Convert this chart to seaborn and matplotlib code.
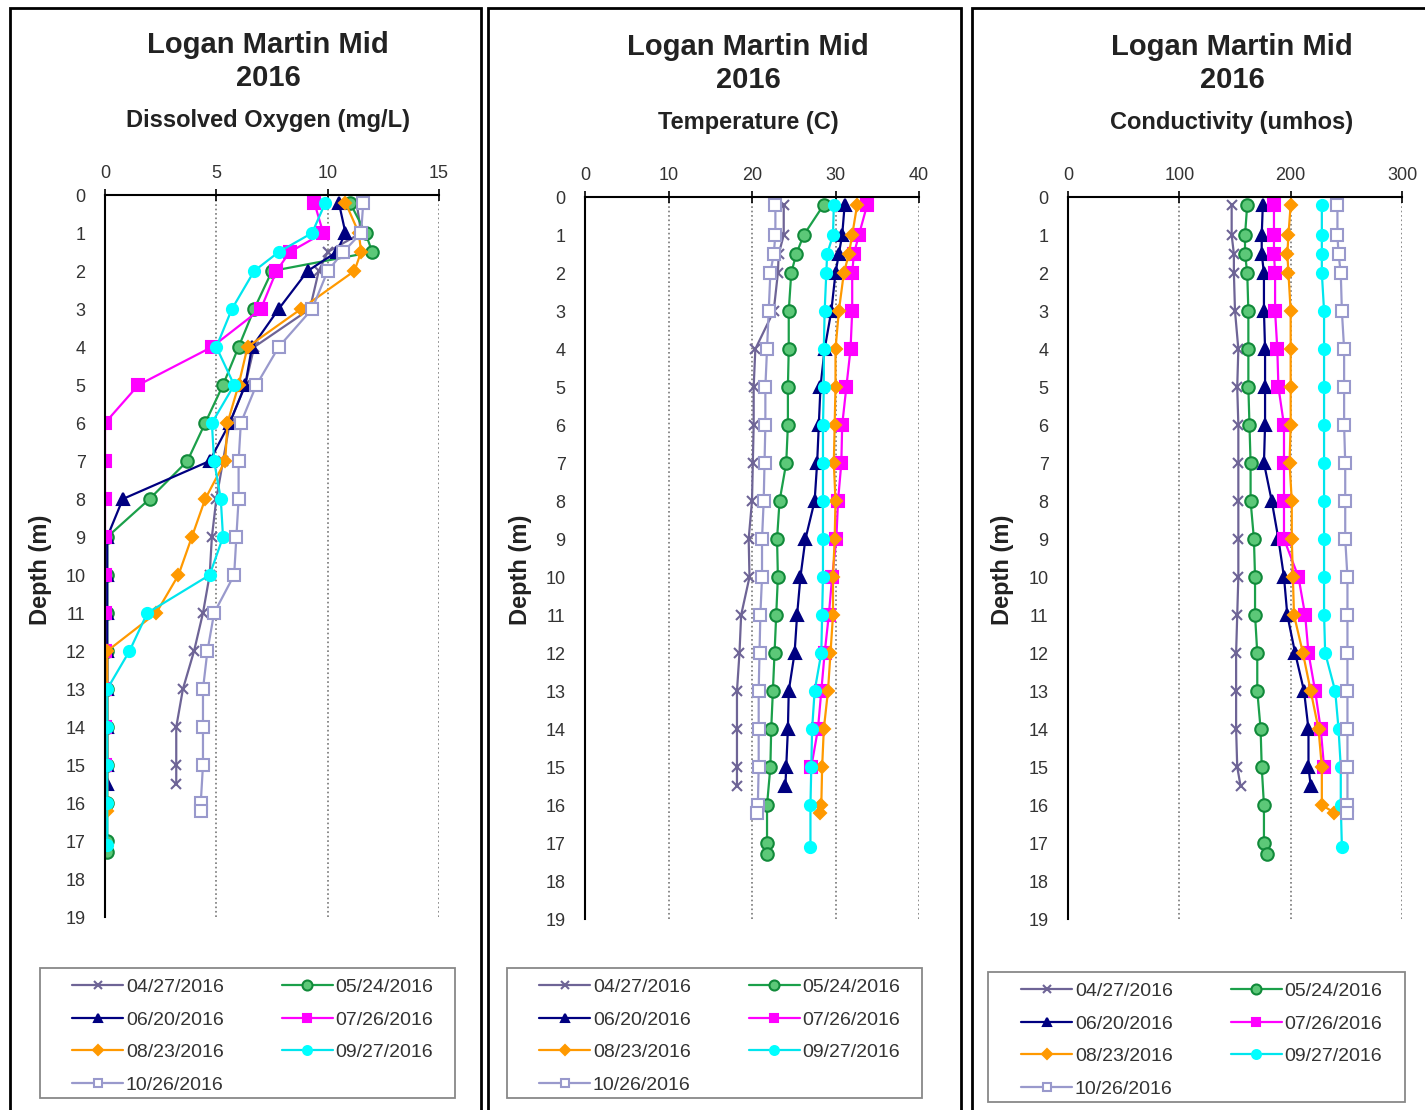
import numpy as np
import pandas as pd
import matplotlib
matplotlib.use("Agg")
import matplotlib.pyplot as plt
from matplotlib.patches import Rectangle
import seaborn as sns

# sampling dates and depths (m)
dates = ["04/27/2016", "05/24/2016", "06/20/2016", "07/26/2016",
         "08/23/2016", "09/27/2016", "10/26/2016"]

depth_0427 = [0.2, 1, 1.5, 2, 3, 4, 5, 6, 7, 8, 9, 10, 11, 12, 13, 14, 15, 15.5]
depth_0524 = [0.2, 1, 1.5, 2, 3, 4, 5, 6, 7, 8, 9, 10, 11, 12, 13, 14, 15, 16, 17, 17.3]
depth_0620 = [0.2, 1, 1.5, 2, 3, 4, 5, 6, 7, 8, 9, 10, 11, 12, 13, 14, 15, 15.5]
depth_0726 = [0.2, 1, 1.5, 2, 3, 4, 5, 6, 7, 8, 9, 10, 11, 12, 13, 14, 15]
depth_0823 = [0.2, 1, 1.5, 2, 3, 4, 5, 6, 7, 8, 9, 10, 11, 12, 13, 14, 15, 16, 16.2]
depth_0927 = [0.2, 1, 1.5, 2, 3, 4, 5, 6, 7, 8, 9, 10, 11, 12, 13, 14, 15, 16, 17.1]
depth_1026 = [0.2, 1, 1.5, 2, 3, 4, 5, 6, 7, 8, 9, 10, 11, 12, 13, 14, 15, 16, 16.2]

# dissolved oxygen (mg/L)
do_0427 = [11.3, 11.5, 10.0, 9.6, 9.2, 6.7, 6.3, 5.6, 5.3, 5.0, 4.8, 4.7, 4.4, 4.0, 3.5, 3.2, 3.2, 3.2]
do_0524 = [11.0, 11.7, 12.0, 7.5, 6.7, 6.0, 5.3, 4.5, 3.7, 2.0, 0.1, 0.1, 0.1, 0.1, 0.1, 0.1, 0.1, 0.1, 0.1, 0.1]
do_0620 = [10.5, 10.8, 10.4, 9.1, 7.8, 6.6, 6.3, 5.6, 4.7, 0.8, 0.1, 0.1, 0.1, 0.1, 0.1, 0.1, 0.1, 0.1]
do_0726 = [9.4, 9.8, 8.3, 7.7, 7.0, 4.8, 1.5, 0, 0, 0, 0, 0, 0, 0, 0, 0, 0]
do_0823 = [10.8, 11.4, 11.5, 11.2, 8.8, 6.4, 6.0, 5.5, 5.4, 4.5, 3.9, 3.3, 2.3, 0.1, 0.1, 0.1, 0.1, 0.1, 0.1]
do_0927 = [9.9, 9.3, 7.8, 6.7, 5.7, 5.0, 5.8, 4.8, 4.9, 5.2, 5.3, 4.7, 1.9, 1.1, 0.1, 0.1, 0.1, 0.1, 0.1]
do_1026 = [11.6, 11.5, 10.7, 10.0, 9.3, 7.8, 6.8, 6.1, 6.0, 6.0, 5.9, 5.8, 4.9, 4.6, 4.4, 4.4, 4.4, 4.3, 4.3]

# temperature (C)
temp_0427 = [23.8, 23.8, 23.2, 23.1, 22.6, 20.4, 20.2, 20.2, 20.1, 20.0, 19.6, 19.7, 18.7, 18.5, 18.2, 18.2, 18.2, 18.2]
temp_0524 = [28.6, 26.2, 25.3, 24.7, 24.4, 24.4, 24.3, 24.3, 24.1, 23.3, 23.0, 23.1, 22.9, 22.7, 22.5, 22.3, 22.2, 21.8, 21.8, 21.8]
temp_0620 = [31.1, 30.8, 30.4, 30.0, 29.5, 28.7, 28.2, 28.0, 27.8, 27.5, 26.4, 25.8, 25.4, 25.1, 24.4, 24.3, 24.1, 24.0]
temp_0726 = [33.8, 32.8, 32.2, 32.0, 32.0, 31.8, 31.3, 30.8, 30.7, 30.3, 30.1, 29.6, 29.2, 28.7, 28.3, 27.9, 27.1]
temp_0823 = [32.6, 32.0, 31.6, 31.0, 30.4, 30.0, 30.0, 29.9, 29.8, 30.0, 29.9, 29.7, 29.7, 29.4, 29.1, 28.6, 28.4, 28.3, 28.2]
temp_0927 = [29.8, 29.7, 29.0, 28.9, 28.7, 28.6, 28.6, 28.5, 28.5, 28.5, 28.5, 28.5, 28.4, 28.3, 27.5, 27.2, 27.1, 27.0, 27.0]
temp_1026 = [22.8, 22.8, 22.6, 22.2, 22.0, 21.8, 21.6, 21.6, 21.5, 21.4, 21.2, 21.2, 21.0, 20.9, 20.8, 20.8, 20.8, 20.7, 20.6]

# conductivity (umhos)
cond_0427 = [147, 147, 149, 149, 150, 153, 152, 153, 153, 153, 153, 153, 152, 151, 151, 151, 152, 155]
cond_0524 = [161, 159, 159, 161, 162, 162, 162, 163, 164, 164, 167, 168, 168, 170, 170, 173, 174, 176, 176, 179]
cond_0620 = [175, 174, 174, 176, 176, 177, 177, 177, 176, 183, 189, 194, 197, 204, 212, 216, 216, 218]
cond_0726 = [185, 185, 185, 186, 186, 188, 189, 194, 194, 194, 194, 207, 213, 216, 222, 227, 230]
cond_0823 = [200, 198, 197, 198, 200, 200, 200, 200, 199, 201, 201, 202, 203, 211, 218, 225, 228, 228, 239]
cond_0927 = [228, 228, 228, 228, 230, 230, 230, 230, 230, 230, 230, 230, 230, 231, 240, 243, 245, 245, 246]
cond_1026 = [242, 242, 243, 245, 246, 248, 248, 248, 249, 249, 249, 251, 251, 251, 251, 251, 251, 251, 251]

depths = [depth_0427, depth_0524, depth_0620, depth_0726, depth_0823, depth_0927, depth_1026]
do_vals = [do_0427, do_0524, do_0620, do_0726, do_0823, do_0927, do_1026]
temp_vals = [temp_0427, temp_0524, temp_0620, temp_0726, temp_0823, temp_0927, temp_1026]
cond_vals = [cond_0427, cond_0524, cond_0620, cond_0726, cond_0823, cond_0927, cond_1026]

# line color, marker, marker face, marker edge, marker size
styles = [
    ("#6E6496", "x", "#6E6496", "#6E6496", 7),
    ("#1BA04A", "o", "#5CC878", "#118A3A", 9),
    ("#000080", "^", "#000080", "#000080", 8),
    ("#FF00FF", "s", "#FF00FF", "#FF00FF", 8),
    ("#FF9900", "D", "#FF9900", "#FF9900", 6),
    ("#00E5EE", "o", "#00FFFF", "#00FFFF", 8),
    ("#9999CC", "s", "white", "#9999CC", 8),
]

W, H = 1425, 1110


def make_df(vals):
    rows = []
    for d, dep, v in zip(dates, depths, vals):
        for a, b in zip(dep, v):
            rows.append({"date": d, "depth": a, "value": b})
    return pd.DataFrame(rows)


def panel(fig, left, vals, xmax, xstep, subtitle, center, depth_x, legend_box, top_shift=0):
    ax = fig.add_axes([left / W, 1 - (917 + top_shift) / H, 334 / W, 722 / H])
    df = make_df(vals)
    for d, st in zip(dates, styles):
        sub = df[df["date"] == d]
        color, mk, mfc, mec, ms = st
        sns.lineplot(data=sub, x="value", y="depth", orient="y", estimator=None,
                     color=color, marker=mk, markersize=ms, markerfacecolor=mfc,
                     markeredgecolor=mec, markeredgewidth=1.5, linewidth=1.6,
                     label=d, ax=ax)
    ax.set_xlim(0, xmax)
    ax.set_ylim(19, 0)
    ax.set_xticks(np.arange(0, xmax + 1, xstep))
    ax.set_yticks(range(0, 20))
    ax.xaxis.tick_top()
    ax.grid(axis="x", linestyle=":", color="#777777", linewidth=1.2)
    ax.grid(axis="y", visible=False)
    for s in ["right", "bottom"]:
        ax.spines[s].set_visible(False)
    for s in ["top", "left"]:
        ax.spines[s].set_color("black")
        ax.spines[s].set_linewidth(1.5)
    ax.tick_params(axis="both", direction="inout", length=8, width=1.2,
                   labelsize=13, labelcolor="#333333", color="black")
    ax.tick_params(axis="x", pad=5)
    ax.tick_params(axis="y", pad=10)
    ax.set_xlabel("")
    ax.set_ylabel("")
    ax.set_facecolor("white")

    # legend: two columns filled row by row, boxed
    h, l = ax.get_legend_handles_labels()
    order = [0, 2, 4, 6, 1, 3, 5]
    x0, y0, x1, y1 = legend_box
    leg = ax.legend([h[i] for i in order], [l[i] for i in order], ncol=2,
                    loc="center",
                    bbox_to_anchor=((x0 + 36 + x1 - 25) / 2 / W, 1 - ((y0 + y1) / 2 + 3) / H),
                    bbox_transform=fig.transFigure, fontsize=14, markerscale=0.8,
                    handlelength=2.6, handletextpad=0.15, labelspacing=0.77,
                    frameon=False, borderaxespad=0, borderpad=0, columnspacing=3.0)
    for t in leg.get_texts():
        t.set_color("#333333")
    fig.add_artist(Rectangle((x0 / W, 1 - y1 / H), (x1 - x0) / W, (y1 - y0) / H,
                             transform=fig.transFigure, fill=False,
                             edgecolor="#888888", linewidth=1.3))

    fig.text(center / W, 1 - (45 + top_shift) / H, "Logan Martin Mid", ha="center",
             va="center", fontsize=21, fontweight="bold", color="#222222")
    fig.text(center / W, 1 - (78 + top_shift) / H, "2016", ha="center", va="center",
             fontsize=21, fontweight="bold", color="#222222")
    fig.text(center / W, 1 - (121 + top_shift) / H, subtitle, ha="center", va="center",
             fontsize=17, fontweight="bold", color="#222222")
    fig.text(depth_x / W, 1 - 570 / H, "Depth (m)", ha="center", va="center",
             rotation=90, fontsize=17, fontweight="bold", color="#222222")
    return ax


sns.set_style("white")
plt.rcParams["font.family"] = ["Liberation Sans", "DejaVu Sans"]

fig = plt.figure(figsize=(W / 100, H / 100), dpi=100)
fig.patch.set_facecolor("white")

panel(fig, 105, do_vals, 15, 5, "Dissolved Oxygen (mg/L)", 268, 40, (40, 968, 455, 1098))
panel(fig, 585, temp_vals, 40, 10, "Temperature (C)", 748, 520, (507, 968, 922, 1098), 2)
panel(fig, 1068, cond_vals, 300, 100, "Conductivity (umhos)", 1232, 1003, (988, 972, 1405, 1102), 2)

# panel frames
for x0, x1 in [(10, 481), (488, 961), (972, 1432)]:
    fig.add_artist(Rectangle((x0 / W, -0.01), (x1 - x0) / W, 1 - 8 / H + 0.01,
                             transform=fig.transFigure, fill=False,
                             edgecolor="black", linewidth=2))

fig.savefig("out.png", dpi=100)
